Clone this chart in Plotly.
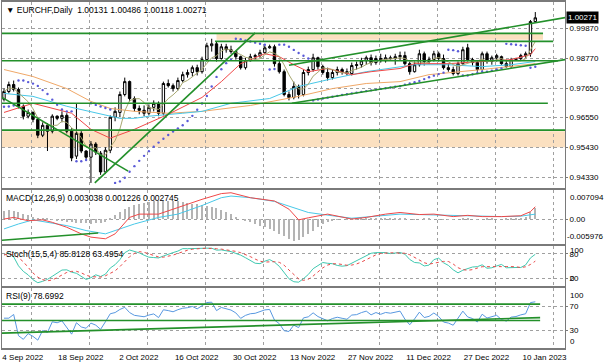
import numpy as np
import pandas as pd
import plotly.graph_objects as go
from plotly.subplots import make_subplots

# ---------------- data ----------------
opens = [0.9723,0.9752,0.9778,0.9760,0.9697,0.9660,0.9674,0.9648,0.9589,0.9626,
         0.9604,0.9660,0.9652,0.9663,0.9604,0.9511,0.9596,0.9530,0.9507,0.9556,
         0.9522,0.9452,0.9533,0.9656,0.9674,0.9741,0.9789,0.9726,0.9689,0.9682,
         0.9671,0.9693,0.9708,0.9671,0.9782,0.9774,0.9763,0.9793,0.9815,0.9823,
         0.9841,0.9826,0.9871,0.9923,0.9930,0.9875,0.9919,0.9908,0.9901,0.9882,
         0.9841,0.9867,0.9882,0.9886,0.9897,0.9915,0.9919,0.9856,0.9826,0.9741,
         0.9730,0.9771,0.9741,0.9823,0.9834,0.9878,0.9845,0.9823,0.9804,0.9823,
         0.9834,0.9826,0.9819,0.9849,0.9852,0.9867,0.9878,0.9860,0.9875,0.9867,
         0.9878,0.9875,0.9882,0.9886,0.9856,0.9826,0.9852,0.9893,0.9864,0.9871,
         0.9893,0.9875,0.9841,0.9834,0.9819,0.9856,0.9915,0.9871,0.9860,0.9834,
         0.9893,0.9864,0.9878,0.9882,0.9856,0.9845,0.9871,0.9875,0.9886,0.9893,
         1.00131]
highs = [0.9763,0.9789,0.9793,0.9767,0.9704,0.9685,0.9678,0.9652,0.9637,0.9634,
         0.9667,0.9663,0.9678,0.9671,0.9615,0.9708,0.9604,0.9533,0.9567,0.9563,
         0.9530,0.9544,0.9663,0.9693,0.9752,0.9804,0.9793,0.9734,0.9700,0.9700,
         0.9704,0.9719,0.9715,0.9789,0.9797,0.9782,0.9804,0.9826,0.9834,0.9849,
         0.9852,0.9882,0.9934,0.9949,0.9938,0.9930,0.9930,0.9923,0.9904,0.9886,
         0.9878,0.9893,0.9893,0.9908,0.9923,0.9927,0.9927,0.9871,0.9834,0.9752,
         0.9789,0.9778,0.9834,0.9845,0.9893,0.9882,0.9852,0.9841,0.9834,0.9845,
         0.9841,0.9838,0.9860,0.9864,0.9878,0.9886,0.9890,0.9886,0.9893,0.9890,
         0.9886,0.9893,0.9901,0.9901,0.9864,0.9864,0.9908,0.9901,0.9882,0.9904,
         0.9901,0.9890,0.9856,0.9845,0.9864,0.9919,0.9930,0.9878,0.9867,0.9901,
         0.9901,0.9886,0.9893,0.9886,0.9871,0.9878,0.9878,0.9893,0.9901,1.0019,
         1.00486]
lows = [0.9715,0.9745,0.9752,0.9689,0.9648,0.9652,0.9637,0.9578,0.9582,0.9530,
        0.9596,0.9645,0.9637,0.9596,0.9492,0.9500,0.9522,0.9500,0.9411,0.9515,
        0.9441,0.9444,0.9522,0.9641,0.9656,0.9734,0.9715,0.9678,0.9667,0.9660,
        0.9663,0.9678,0.9660,0.9663,0.9767,0.9752,0.9756,0.9786,0.9804,0.9808,
        0.9812,0.9819,0.9864,0.9901,0.9864,0.9871,0.9897,0.9893,0.9871,0.9834,
        0.9834,0.9864,0.9871,0.9878,0.9893,0.9912,0.9845,0.9819,0.9734,0.9719,
        0.9723,0.9726,0.9734,0.9812,0.9826,0.9834,0.9815,0.9793,0.9797,0.9812,
        0.9815,0.9812,0.9812,0.9834,0.9841,0.9852,0.9849,0.9852,0.9860,0.9860,
        0.9871,0.9852,0.9867,0.9849,0.9815,0.9823,0.9845,0.9849,0.9856,0.9864,
        0.9864,0.9834,0.9826,0.9812,0.9812,0.9852,0.9864,0.9849,0.9826,0.9830,
        0.9856,0.9852,0.9864,0.9852,0.9841,0.9841,0.9867,0.9867,0.9878,0.9882,
        1.00118]
closes = [0.9752,0.9778,0.9760,0.9697,0.9660,0.9674,0.9648,0.9589,0.9626,0.9604,
          0.9660,0.9652,0.9663,0.9604,0.9504,0.9596,0.9530,0.9507,0.9556,0.9526,
          0.9452,0.9533,0.9656,0.9678,0.9741,0.9789,0.9726,0.9689,0.9682,0.9671,
          0.9693,0.9708,0.9671,0.9782,0.9774,0.9763,0.9793,0.9815,0.9823,0.9841,
          0.9826,0.9871,0.9923,0.9930,0.9875,0.9919,0.9908,0.9901,0.9882,0.9841,
          0.9867,0.9882,0.9886,0.9897,0.9915,0.9919,0.9856,0.9826,0.9741,0.9730,
          0.9771,0.9741,0.9823,0.9834,0.9878,0.9845,0.9823,0.9804,0.9823,0.9834,
          0.9826,0.9819,0.9849,0.9852,0.9867,0.9878,0.9860,0.9875,0.9867,0.9878,
          0.9875,0.9882,0.9886,0.9856,0.9826,0.9852,0.9893,0.9864,0.9871,0.9893,
          0.9875,0.9841,0.9834,0.9819,0.9856,0.9908,0.9871,0.9860,0.9834,0.9893,
          0.9864,0.9878,0.9886,0.9856,0.9845,0.9871,0.9875,0.9886,0.9893,1.00131,
          1.00271]

date_labels = ["4 Sep 2022", "18 Sep 2022", "2 Oct 2022", "16 Oct 2022", "30 Oct 2022",
               "13 Nov 2022", "27 Nov 2022", "11 Dec 2022", "27 Dec 2022", "10 Jan 2023"]
label_bars = [0, 12, 24, 36, 48, 60, 72, 84, 96, 108]

# moving averages (bar index, price)
red_ma_bar = [0, 6, 14, 18, 22, 27, 34, 38, 41, 45, 49, 54, 57, 60, 63, 67, 72, 76, 82, 85, 92, 99, 105, 109, 110]
red_ma_val = [0.9674, 0.9708, 0.9671, 0.9611, 0.9578, 0.9611, 0.9667, 0.9704, 0.9730, 0.9789, 0.9856,
              0.9893, 0.9882, 0.9852, 0.9826, 0.9838, 0.9815, 0.9826, 0.9838, 0.9856, 0.9856, 0.9864,
              0.9871, 0.9890, 0.9912]
cyan_ma_bar = [0, 6, 13, 20, 24, 27, 30, 37, 41, 47, 55, 61, 68, 75, 82, 85, 92, 99, 105, 110]
cyan_ma_val = [0.9745, 0.9734, 0.9697, 0.9667, 0.9652, 0.9652, 0.9660, 0.9671, 0.9678, 0.9708,
               0.9726, 0.9771, 0.9800, 0.9826, 0.9845, 0.9852, 0.9852, 0.9845, 0.9852, 0.9864]
orange_ma_bar = [0, 6, 13, 18, 22, 27, 34, 41, 51, 61, 68, 75, 82, 88, 99, 105, 110]
orange_ma_val = [0.9834, 0.9808, 0.9763, 0.9715, 0.9689, 0.9678, 0.9671, 0.9678, 0.9700, 0.9734,
                 0.9763, 0.9782, 0.9789, 0.9815, 0.9834, 0.9845, 0.9856]

# MACD lines (bar index, value)
macd_bar = [0, 2, 5, 8, 10, 13, 16, 18, 21, 23, 26, 28, 32, 35, 38, 41, 45, 47, 51, 56, 59, 61,
            63, 67, 72, 75, 79, 82, 86, 89, 93, 96, 99, 103, 107, 109, 110]
macd_val = [0.0000, 0.0004, -0.0004, -0.0002, -0.0008, -0.0020, -0.0036, -0.0044, -0.0048, -0.0036,
            0.0004, 0.0012, 0.0012, 0.0024, 0.0036, 0.0048, 0.0062, 0.0064, 0.0052, 0.0044, 0.0024,
            -0.0002, 0.0003, 0.0012, 0.0000, 0.0004, 0.0012, 0.0016, 0.0011, 0.0012, 0.0006, 0.0009,
            0.0006, 0.0006, 0.0008, 0.0018, 0.0030]
signal_bar = [0, 3, 6, 13, 17, 21, 23, 27, 32, 36, 41, 45, 47, 51, 56, 60, 63, 68, 72, 76, 82, 89,
              96, 103, 107, 110]
signal_val = [-0.0024, -0.0012, -0.0002, -0.0016, -0.0028, -0.0036, -0.0028, -0.0012, 0.0004, 0.0012,
              0.0033, 0.0052, 0.0056, 0.0052, 0.0043, 0.0028, 0.0016, 0.0008, 0.0002, 0.0006, 0.0012,
              0.0010, 0.0008, 0.0006, 0.0007, 0.0012]
macd_hist = [0.0019, 0.0022, 0.0020, 0.0017, 0.0013,
             0.0009, 0.0006, 0.0004, 0.0002, 0.0001,
             -0.0002, -0.0004, -0.0005, -0.0006,
             -0.0008, -0.0009, -0.0010, -0.0010, -0.0011, -0.0010, -0.0009, -0.0006,
             0.0002, 0.0010, 0.0018, 0.0025, 0.0030, 0.0034, 0.0037, 0.0040, 0.0042,
             0.0043, 0.0044, 0.0045, 0.0045, 0.0044, 0.0043, 0.0042, 0.0040, 0.0038, 0.0036,
             0.0034, 0.0032, 0.0030, 0.0027, 0.0023, 0.0018, 0.0012, 0.0006,
             0.0000, -0.0004, -0.0008, -0.0012, -0.0016, -0.0020,
             -0.0025, -0.0030, -0.0036, -0.0042, -0.0048, -0.0052, -0.0050, -0.0044, -0.0036,
             -0.0028, -0.0020, -0.0013, -0.0008, -0.0004, -0.0002, 0.0000,
             0.0002, 0.0003, 0.0004, 0.0004, 0.0003, 0.0002, 0.0002, 0.0003, 0.0004, 0.0004,
             0.0003, 0.0002, 0.0001, 0.0000, -0.0001, 0.0000, 0.0001, 0.0001, 0.0000, -0.0001,
             -0.0002, -0.0002, -0.0001, 0.0000, 0.0001, 0.0001, 0.0000, -0.0001, 0.0000, 0.0001,
             0.0001, 0.0000, 0.0000, 0.0001, 0.0001, 0.0002, 0.0003,
             0.0006, 0.0018, 0.0027]

# drawn objects
h_levels = [(0.9969, -1, 111.6), (0.9939, 43.7, 113.7), (0.9867, -1, 114.7),
            (0.9708, -1, 112.6), (0.9608, -1, 118)]
zones = [(0.9945, 0.9967, 44.0, 111.6), (0.9544, 0.9604, -1, 118)]
trend_lines = [(-0.8, 0.9734, 25.7, 0.9455), (18.8, 0.9411, 52.0, 0.9971),
               (59.0, 0.9850, 116.2, 1.0028), (59.6, 0.9708, 116.2, 0.9871)]
macd_trend = [(-0.8, -0.0052, 19.5, -0.0034)]
rsi_levels = [(73.5, -1, 111), (46.0, -1, 111)]
rsi_trend = [(-0.8, 24.8, 111, 50.9)]

header = "\u25BC EURCHF,Daily  1.00131 1.00486 1.00118 1.00271"
macd_title = "MACD(12,26,9) 0.003038 0.001226 0.002745"
stoch_title = "Stoch(15,5,4) 85.8128 63.4954"
rsi_title = "RSI(9) 78.6992"

# ---------------- indicators ----------------
o = np.array(opens); h = np.array(highs); l = np.array(lows); c = np.array(closes)
n = len(c)
bars = np.arange(n)
cs = pd.Series(c)

def psar(high, low, step=0.02, mx=0.2):
    out = np.full(len(high), np.nan)
    bull = True; af = step; ep = high[0]; out[0] = low[0] - 0.002
    for i in range(1, len(high)):
        s = out[i-1] + af * (ep - out[i-1])
        if bull:
            s = min(s, low[i-1], low[max(i-2, 0)])
            if low[i] < s:
                bull = False; s = ep; ep = low[i]; af = step
            elif high[i] > ep:
                ep = high[i]; af = min(af + step, mx)
        else:
            s = max(s, high[i-1], high[max(i-2, 0)])
            if high[i] > s:
                bull = True; s = ep; ep = high[i]; af = step
            elif low[i] < ep:
                ep = low[i]; af = min(af + step, mx)
        out[i] = s
    return out

sar = psar(h, l)
fast_ma = cs.rolling(5, min_periods=1).mean()

ll = pd.Series(l).rolling(15, min_periods=1).min()
hh = pd.Series(h).rolling(15, min_periods=1).max()
k = 100 * (cs - ll).rolling(5, min_periods=1).sum() / (hh - ll).rolling(5, min_periods=1).sum()
d = k.rolling(4, min_periods=1).mean()

delta = cs.diff().fillna(0)
gain = delta.clip(lower=0).ewm(alpha=1/9, adjust=False).mean()
loss = (-delta.clip(upper=0)).ewm(alpha=1/9, adjust=False).mean()
rsi = 100 - 100 / (1 + gain / loss.replace(0, np.nan))
rsi = rsi.fillna(50)

# ---------------- figure ----------------
W, H = 605, 363
ML, MR, MT, MB = 2, 40, 0, 15
PH = H - MT - MB

def dom(top_px, bot_px):
    return [1 - bot_px / PH, 1 - top_px / PH]

fig = make_subplots(rows=4, cols=1, shared_xaxes=False)
GREEN = "#23902a"
FONT = "Liberation Sans"

fig.add_trace(go.Candlestick(x=bars, open=o, high=h, low=l, close=c,
                             increasing=dict(line=dict(color="black", width=1), fillcolor="white"),
                             decreasing=dict(line=dict(color="black", width=1), fillcolor="black"),
                             whiskerwidth=0, showlegend=False, hoverinfo="skip"), row=1, col=1)
fig.add_trace(go.Scatter(x=orange_ma_bar, y=orange_ma_val, mode="lines",
                         line=dict(color="#f0a868", width=1), showlegend=False), row=1, col=1)
fig.add_trace(go.Scatter(x=cyan_ma_bar, y=cyan_ma_val, mode="lines",
                         line=dict(color="#48c8e8", width=1), showlegend=False), row=1, col=1)
fig.add_trace(go.Scatter(x=red_ma_bar, y=red_ma_val, mode="lines",
                         line=dict(color="#f04848", width=1), showlegend=False), row=1, col=1)
fig.add_trace(go.Scatter(x=bars, y=fast_ma, mode="lines",
                         line=dict(color="#a8a870", width=1), showlegend=False), row=1, col=1)
fig.add_trace(go.Scatter(x=bars, y=sar, mode="markers",
                         marker=dict(color="#5a5ad8", size=2.4), showlegend=False), row=1, col=1)

fig.add_trace(go.Bar(x=bars, y=macd_hist, marker=dict(color="#b4b4b4", line=dict(width=0)),
                     width=0.25, showlegend=False), row=2, col=1)
fig.add_trace(go.Scatter(x=signal_bar, y=signal_val, mode="lines", line=dict(color="#48c8e8", width=1),
                         showlegend=False), row=2, col=1)
fig.add_trace(go.Scatter(x=macd_bar, y=macd_val, mode="lines", line=dict(color="#f04848", width=1),
                         showlegend=False), row=2, col=1)

fig.add_trace(go.Scatter(x=bars, y=k, mode="lines", line=dict(color="#40c8b0", width=1),
                         showlegend=False), row=3, col=1)
fig.add_trace(go.Scatter(x=bars, y=d, mode="lines", line=dict(color="#e84848", width=1, dash="dot"),
                         showlegend=False), row=3, col=1)

fig.add_trace(go.Scatter(x=bars, y=rsi, mode="lines", line=dict(color="#5898e0", width=1),
                         showlegend=False), row=4, col=1)

shapes = []
for lo, hi, x0, x1 in zones:
    shapes.append(dict(type="rect", xref="x", yref="y", x0=x0, x1=x1, y0=lo, y1=hi,
                       fillcolor="#fbe0c0", line=dict(width=0), layer="below"))
for lv, x0, x1 in h_levels:
    shapes.append(dict(type="line", xref="x", yref="y", x0=x0, x1=x1, y0=lv, y1=lv,
                       line=dict(color=GREEN, width=1.6)))
for x0, y0, x1, y1 in trend_lines:
    shapes.append(dict(type="line", xref="x", yref="y", x0=x0, x1=x1, y0=y0, y1=y1,
                       line=dict(color=GREEN, width=1.6)))
for x0, y0, x1, y1 in macd_trend:
    shapes.append(dict(type="line", xref="x2", yref="y2", x0=x0, x1=x1, y0=y0, y1=y1,
                       line=dict(color=GREEN, width=1.6)))
for lv, x0, x1 in rsi_levels:
    shapes.append(dict(type="line", xref="x4", yref="y4", x0=x0, x1=x1, y0=lv, y1=lv,
                       line=dict(color=GREEN, width=1.6)))
for x0, y0, x1, y1 in rsi_trend:
    shapes.append(dict(type="line", xref="x4", yref="y4", x0=x0, x1=x1, y0=y0, y1=y1,
                       line=dict(color=GREEN, width=1.6)))

xr = [(2 - 4) / 4.83, (565 - 4) / 4.83]
tickpos = [b + 3.9 for b in label_bars]
axfont = dict(family=FONT, size=8, color="black")
grid_minor = dict(tickmode="linear", tick0=5.7, dtick=12, showgrid=True,
                  gridcolor="#a0a0a0", griddash="dot", gridwidth=1, ticks="")

doms = [dom(0, 187), dom(189, 243), dom(245, 286), dom(288, PH)]
for i in range(4):
    sx = "xaxis" if i == 0 else f"xaxis{i+1}"
    sy = "yaxis" if i == 0 else f"yaxis{i+1}"
    fig.layout[sx].update(range=xr, domain=[0, 1], showgrid=False, zeroline=False,
                          showline=True, mirror=True, linecolor="#7a7a7a", linewidth=2,
                          tickmode="array", tickvals=tickpos, ticktext=date_labels,
                          showticklabels=(i == 3), ticks="", tickfont=axfont,
                          minor=grid_minor, rangeslider=dict(visible=False), fixedrange=True)
    fig.layout[sy].update(domain=doms[i], side="right", showline=True, mirror=True,
                          linecolor="#7a7a7a", linewidth=1, zeroline=False,
                          showgrid=True, gridcolor="#a0a0a0", griddash="dot", gridwidth=1,
                          ticks="outside", ticklen=2, tickcolor="#7a7a7a",
                          tickfont=axfont, fixedrange=True)

main_ticks = [0.99870, 0.98770, 0.97650, 0.96550, 0.95430, 0.94330]
fig.layout.yaxis.update(range=[0.93923, 1.00861], tickvals=main_ticks,
                        ticktext=[f"{v:.5f}" for v in main_ticks])
fig.layout.yaxis2.update(range=[-0.005976, 0.007094], tickvals=[0.0], ticktext=["0.00"])
fig.layout.yaxis3.update(range=[0, 100], tickvals=[80, 20], ticktext=["80", "20"])
fig.layout.yaxis4.update(range=[0, 100], tickvals=[70, 30], ticktext=["70", "30"])

ann = []
def lab(text, yref, yv, anchor, shift=0, xs=3):
    ann.append(dict(text=text, xref="paper", x=1, xanchor="left", xshift=xs,
                    yref=yref, y=yv, yanchor=anchor, yshift=shift, showarrow=False,
                    font=axfont))
lab("0.007094", "y2 domain", 1, "top", -1)
lab("-0.005976", "y2 domain", 0, "bottom", 1, xs=0)
lab("100", "y3 domain", 1, "top", 2)
lab("0", "y3 domain", 0, "bottom", 1)
lab("100", "y4 domain", 1, "top", -1)
lab("0", "y4 domain", 0, "bottom", 0)
ann.append(dict(text="1.00271", xref="paper", x=1, xanchor="left", xshift=1,
                yref="y", y=closes[-1], yanchor="middle", showarrow=False,
                bgcolor="black", font=dict(family=FONT, size=8, color="white"), borderpad=1))
for t, yref in [(header, "y domain"), (macd_title, "y2 domain"),
                (stoch_title, "y3 domain"), (rsi_title, "y4 domain")]:
    ann.append(dict(text=t, xref="paper", x=0, xanchor="left", xshift=2,
                    yref=yref, y=1, yanchor="top", yshift=-1, showarrow=False,
                    font=dict(family=FONT, size=8.5, color="black")))

fig.update_layout(width=W, height=H, margin=dict(l=ML, r=MR, t=MT, b=MB),
                  paper_bgcolor="white", plot_bgcolor="white", shapes=shapes,
                  annotations=ann, showlegend=False, bargap=0, dragmode=False)
fig.write_html("out.html", config={"displayModeBar": False},
               post_script="document.body.style.margin='0';document.body.style.padding='0';document.body.style.overflow='hidden';")
